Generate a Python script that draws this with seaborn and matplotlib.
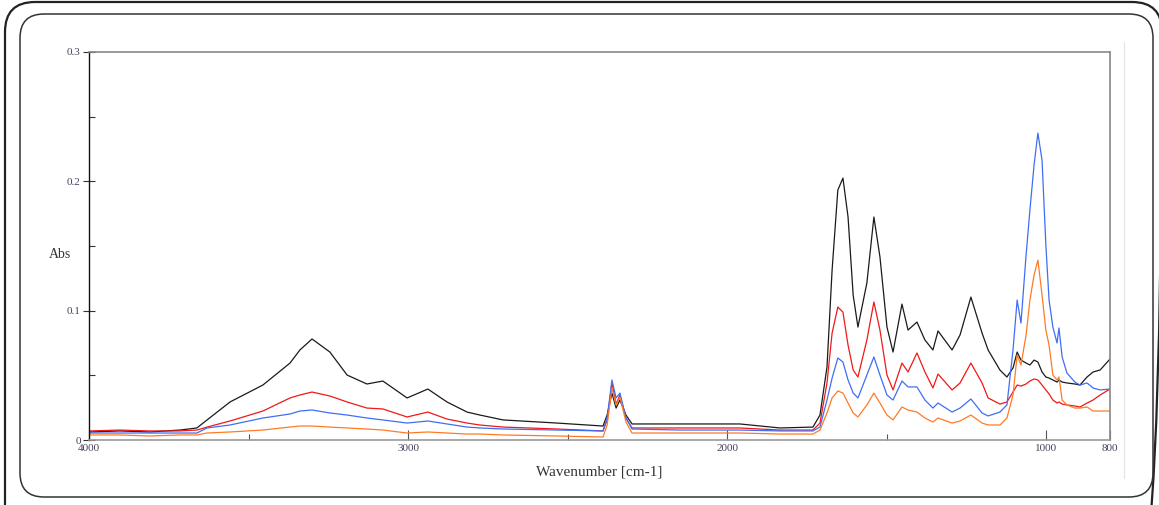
import numpy as np
import pandas as pd
import matplotlib
matplotlib.use("Agg")
import matplotlib.pyplot as plt
from matplotlib.patches import FancyBboxPatch
from matplotlib.ticker import FixedLocator
import seaborn as sns

# ---- data ----
wavenumber = [4000, 3903, 3809, 3715, 3662, 3630, 3558, 3455, 3370, 3339, 3301, 3245, 3191,
              3129, 3079, 3003, 2938, 2878, 2815, 2775, 2702, 2533, 2389, 2376, 2361, 2348,
              2336, 2317, 2298, 2148, 1960, 1834, 1731, 1709, 1687, 1671, 1653, 1637, 1621,
              1605, 1590, 1562, 1540, 1521, 1499, 1480, 1452, 1433, 1405, 1380, 1355, 1339,
              1295, 1270, 1236, 1201, 1182, 1145, 1123, 1104, 1091, 1079, 1063, 1051, 1038,
              1026, 1013, 1001, 991, 979, 966, 960, 950, 935, 910, 894, 872, 853, 831, 800]

black = [0.0062, 0.0070, 0.0062, 0.0077, 0.0093, 0.0155, 0.0294, 0.0425, 0.0595, 0.0696, 0.0781,
         0.0680, 0.0502, 0.0433, 0.0456, 0.0325, 0.0394, 0.0294, 0.0216, 0.0193, 0.0155, 0.0131,
         0.0108, 0.0193, 0.0363, 0.0247, 0.0309, 0.0193, 0.0124, 0.0124, 0.0124, 0.0093, 0.0100,
         0.0193, 0.0564, 0.1314, 0.1933, 0.2025, 0.1724, 0.1121, 0.0873, 0.1214, 0.1724, 0.1415,
         0.0873, 0.0680, 0.1051, 0.0850, 0.0912, 0.0773, 0.0696, 0.0843, 0.0696, 0.0812, 0.1105,
         0.0827, 0.0696, 0.0541, 0.0487, 0.0557, 0.0680, 0.0618, 0.0595, 0.0580, 0.0618, 0.0603,
         0.0526, 0.0487, 0.0479, 0.0464, 0.0448, 0.0464, 0.0448, 0.0441, 0.0433, 0.0425, 0.0487,
         0.0526, 0.0541, 0.0626]

red = [0.0070, 0.0077, 0.0070, 0.0070, 0.0077, 0.0100, 0.0147, 0.0224, 0.0325, 0.0348, 0.0371,
       0.0340, 0.0294, 0.0247, 0.0240, 0.0178, 0.0216, 0.0162, 0.0131, 0.0116, 0.0100, 0.0085,
       0.0070, 0.0155, 0.0441, 0.0278, 0.0348, 0.0170, 0.0093, 0.0093, 0.0093, 0.0077, 0.0077,
       0.0131, 0.0441, 0.0827, 0.1028, 0.0989, 0.0734, 0.0541, 0.0487, 0.0773, 0.1067, 0.0850,
       0.0502, 0.0387, 0.0595, 0.0526, 0.0673, 0.0526, 0.0402, 0.0510, 0.0387, 0.0441, 0.0595,
       0.0441, 0.0325, 0.0278, 0.0294, 0.0371, 0.0425, 0.0417, 0.0433, 0.0456, 0.0472, 0.0464,
       0.0425, 0.0387, 0.0356, 0.0309, 0.0286, 0.0294, 0.0278, 0.0271, 0.0263, 0.0255, 0.0286,
       0.0309, 0.0348, 0.0394]

blue = [0.0054, 0.0054, 0.0054, 0.0054, 0.0054, 0.0093, 0.0116, 0.0170, 0.0201, 0.0224, 0.0232,
        0.0209, 0.0193, 0.0170, 0.0155, 0.0131, 0.0147, 0.0124, 0.0100, 0.0093, 0.0085, 0.0077,
        0.0070, 0.0170, 0.0464, 0.0325, 0.0363, 0.0170, 0.0085, 0.0077, 0.0077, 0.0070, 0.0070,
        0.0100, 0.0309, 0.0479, 0.0634, 0.0603, 0.0464, 0.0363, 0.0325, 0.0502, 0.0642, 0.0502,
        0.0348, 0.0309, 0.0456, 0.0410, 0.0410, 0.0309, 0.0247, 0.0286, 0.0216, 0.0247, 0.0317,
        0.0209, 0.0186, 0.0216, 0.0271, 0.0696, 0.1082, 0.0904, 0.1430, 0.1778, 0.2126, 0.2373,
        0.2164, 0.1507, 0.1082, 0.0873, 0.0750, 0.0866, 0.0642, 0.0518, 0.0448, 0.0425, 0.0441,
        0.0402, 0.0387, 0.0394]

orange = [0.0039, 0.0039, 0.0031, 0.0039, 0.0039, 0.0054, 0.0062, 0.0077, 0.0100, 0.0108, 0.0108,
          0.0100, 0.0093, 0.0085, 0.0077, 0.0054, 0.0062, 0.0054, 0.0046, 0.0046, 0.0039, 0.0031,
          0.0023, 0.0116, 0.0402, 0.0271, 0.0332, 0.0139, 0.0054, 0.0054, 0.0054, 0.0046, 0.0046,
          0.0077, 0.0209, 0.0325, 0.0379, 0.0363, 0.0286, 0.0209, 0.0178, 0.0271, 0.0363, 0.0286,
          0.0193, 0.0155, 0.0255, 0.0232, 0.0216, 0.0170, 0.0139, 0.0170, 0.0131, 0.0147, 0.0193,
          0.0131, 0.0116, 0.0116, 0.0170, 0.0348, 0.0657, 0.0580, 0.0812, 0.1082, 0.1275, 0.1391,
          0.1121, 0.0850, 0.0734, 0.0502, 0.0464, 0.0487, 0.0309, 0.0271, 0.0247, 0.0247, 0.0255,
          0.0224, 0.0224, 0.0224]

series_names = ["black", "red", "blue", "orange"]
series_colors = ["#1a1a1a", "#f01818", "#3f6ef5", "#ff7a26"]
x_ticks = [4000, 3000, 2000, 1000, 800]
x_tick_labels = ["4000", "3000", "2000", "1000", "800"]
y_ticks = [0, 0.1, 0.2, 0.3]
y_tick_labels = ["0", "0.1", "0.2", "0.3"]

df = pd.concat([
    pd.DataFrame({"wn": wavenumber, "abs": vals, "s": name})
    for name, vals in zip(series_names, [black, red, blue, orange])
], ignore_index=True)

sns.set_theme(style="white")
plt.rcParams["font.family"] = ["Liberation Serif", "DejaVu Serif"]

W, H = 1159, 505
fig = plt.figure(figsize=(W / 100, H / 100), dpi=100)

# background frame axes in pixel coordinates
bg = fig.add_axes([0, 0, 1, 1], zorder=0)
bg.set_xlim(0, W)
bg.set_ylim(H, 0)
bg.axis("off")
bg.add_patch(FancyBboxPatch((5, 2), 1157, 600,
                            boxstyle="round,pad=0,rounding_size=30",
                            fill=False, lw=1.6, ec="#222222"))
bg.add_patch(FancyBboxPatch((20, 14), 1133, 483,
                            boxstyle="round,pad=0,rounding_size=24",
                            fill=False, lw=1.1, ec="#333333"))
bg.plot([1124, 1124], [42, 478], color="#e6e6e6", lw=1)

ax = fig.add_axes([89 / W, (H - 440) / H, (1110 - 89) / W, (440 - 52) / H], zorder=1)
ax.patch.set_alpha(0)
sns.lineplot(data=df, x="wn", y="abs", hue="s", palette=series_colors,
             hue_order=series_names, estimator=None, sort=False,
             linewidth=0.9, legend=False, ax=ax)

ax.set_xlim(4000, 800)
ax.set_ylim(0, 0.3)
ax.xaxis.set_major_locator(FixedLocator(x_ticks))
ax.set_xticklabels(x_tick_labels)
ax.xaxis.set_minor_locator(FixedLocator([3500, 2500, 1500]))
ax.set_yticks(y_ticks)
ax.set_yticklabels(y_tick_labels)
ax.yaxis.set_minor_locator(FixedLocator([0.05, 0.15, 0.25]))

tick_col = "#4a4060"
ax.tick_params(axis="x", which="major", direction="in", length=7, width=0.8,
               colors="#555555", labelcolor=tick_col, labelsize=8, pad=3)
ax.tick_params(axis="x", which="minor", direction="in", length=4, width=0.8, colors="#555555")
ax.tick_params(axis="y", which="major", direction="inout", length=8, width=0.8,
               colors="#333333", labelcolor=tick_col, labelsize=8, pad=2)
ax.tick_params(axis="y", which="minor", direction="in", length=4, width=0.8, colors="#333333")
ax.tick_params(bottom=True, left=True, which="both")

for side in ["top", "right"]:
    ax.spines[side].set_color("#888888")
    ax.spines[side].set_linewidth(1.2)
ax.spines["left"].set_color("#111111")
ax.spines["left"].set_linewidth(1.0)
ax.spines["bottom"].set_color("#999999")
ax.spines["bottom"].set_linewidth(1.2)

ax.set_xlabel("Wavenumber [cm-1]", fontsize=11, color="#333333", labelpad=9)
ax.set_ylabel("")
fig.text(60 / W, 1 - 254 / H, "Abs", fontsize=10, color="#333333",
         ha="center", va="center")

fig.savefig("out.png", dpi=100)
